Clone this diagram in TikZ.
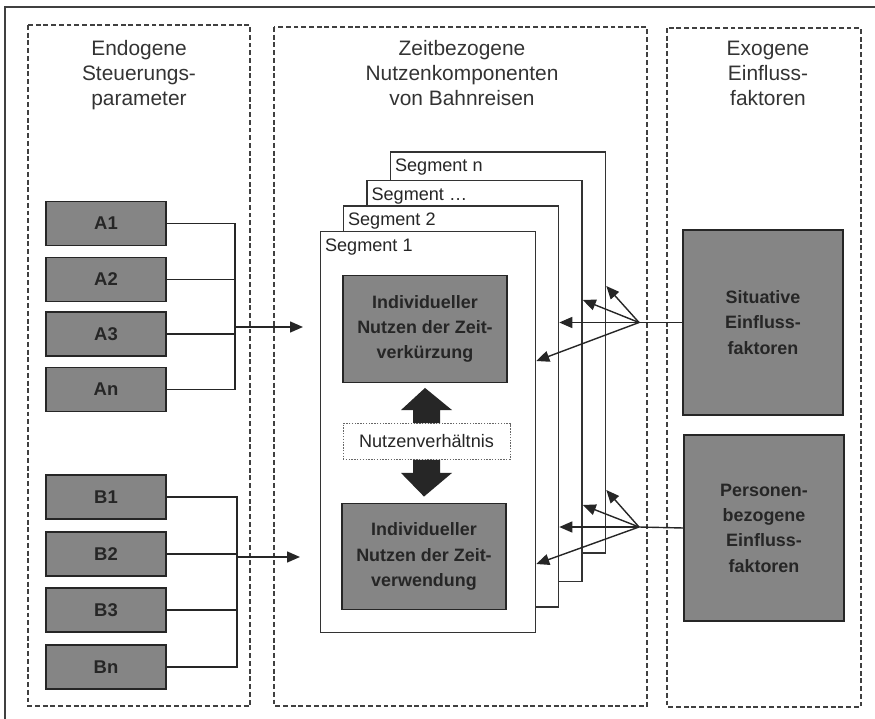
\documentclass[tikz,border=0pt]{standalone}
\usepackage{fontspec}
\setmainfont{Liberation Sans}
\usetikzlibrary{arrows.meta,calc}

\begin{document}
\begin{tikzpicture}[
    x=0.02cm, y=-0.02cm,
    panel/.style={draw=black!75, line width=0.7pt, dash pattern=on 2.8pt off 1.6pt},
    title/.style={align=center, text=black!80, font=\fontsize{11.9}{14.2}\selectfont},
    param/.style={draw=black!85, line width=0.8pt, fill=black!48, text=black!85,
        inner sep=0pt, minimum width=2.4cm, minimum height=0.88cm,
        font=\bfseries\fontsize{10.5}{12}\selectfont},
    segbox/.style={draw=black!80, line width=0.9pt, fill=white, inner sep=0pt,
        minimum width=4.3cm, minimum height=8.02cm},
    seglabel/.style={anchor=north west, inner xsep=0.1cm, inner ysep=0.15cm,
        text=black!85, font=\fontsize{10.3}{12}\selectfont},
    utilbox/.style={draw=black!85, line width=0.8pt, fill=black!48, text=black!85,
        inner sep=0pt, minimum width=3.28cm, minimum height=2.13cm, align=center,
        font=\bfseries\fontsize{10.2}{14.4}\selectfont},
    factorbox/.style={utilbox, minimum width=3.2cm},
    ratiobox/.style={draw=black!60, line width=0.5pt, dash pattern=on 0.8pt off 0.8pt,
        fill=white, inner sep=0pt, minimum width=3.34cm, minimum height=0.72cm,
        text=black!85, font=\fontsize{10.3}{12}\selectfont},
    linkline/.style={draw=black!85, line width=0.8pt},
    feedarrow/.style={linkline, -{Triangle[length=2.6mm, width=2.2mm]}},
    blockarrow/.style={fill=black!85}
]

    \useasboundingbox (0,0) rectangle (875,719);

    % frame
    \draw[black!75, line width=0.9pt]
        (5,719) --
        (5,7) --
        (875,7);

    % panels
    \draw[panel] (28,25) rectangle (250,706);
    \draw[panel] (274,27) rectangle (647,706);
    \draw[panel] (667,28) rectangle (861,707);

    \node[title] (endo) at (139,75) {Endogene\\Steuerungs-\\parameter};
    \node[title] (zeit) at (462,73) {Zeitbezogene\\Nutzenkomponenten\\von Bahnreisen};
    \node[title] (exo) at (768,73) {Exogene\\Einfluss-\\faktoren};

    % A parameters
    \node[param] (a1) at (106,223.5) {A1};
    \node[param] (a2) at (106,279.5) {A2};
    \node[param] (a3) at (106,334) {A3};
    \node[param] (an) at (106,389.5) {An};

    \coordinate (busA) at (235,327);
    \coordinate (inA) at (303,327);
    \draw[linkline] (a1.east) -| (busA);
    \draw[linkline] (a2.east) -| (busA);
    \draw[linkline] (a3.east) -| (busA);
    \draw[linkline] (an.east) -| (busA);
    \draw[feedarrow]
        (busA) --
        (inA);

    % B parameters
    \node[param] (b1) at (106,497) {B1};
    \node[param] (b2) at (106,554) {B2};
    \node[param] (b3) at (106,610) {B3};
    \node[param] (bn) at (106,667) {Bn};

    \coordinate (busB) at (237,557);
    \coordinate (inB) at (300,557);
    \draw[linkline] (b1.east) -| (busB);
    \draw[linkline] (b2.east) -| (busB);
    \draw[linkline] (b3.east) -| (busB);
    \draw[linkline] (bn.east) -| (busB);
    \draw[feedarrow]
        (busB) --
        (inB);

    % segments
    \node[segbox] (segn) at (498,352.5) {};
    \node[seglabel] (segnlab) at (segn.north west) {Segment n};
    \node[segbox] (segd) at (474.5,381) {};
    \node[seglabel] (segdlab) at (segd.north west) {Segment \dots};
    \node[segbox] (seg2) at (451,406.5) {};
    \node[seglabel] (seg2lab) at (seg2.north west) {Segment 2};
    \node[segbox] (seg1) at (428,432) {};
    \node[seglabel] (seg1lab) at (seg1.north west) {Segment 1};

    % utility components
    \node[utilbox] (shorten) at (425,329) {Individueller\\Nutzen der Zeit-\\verkürzung};
    \node[utilbox] (usage) at (424,556.5) {Individueller\\Nutzen der Zeit-\\verwendung};
    \node[ratiobox] (ratio) at (426.5,441.5) {Nutzenverhältnis};

    \fill[blockarrow]
        ($(ratio.north)+(-13.5,0)$) --
        ($(ratio.north)+(13.5,0)$) --
        ($(ratio.north)+(13.5,-13)$) --
        ($(ratio.north)+(25.5,-13)$) --
        ($(shorten.south)+(0,5)$) --
        ($(ratio.north)+(-25.5,-13)$) --
        ($(ratio.north)+(-13.5,-13)$) -- cycle;

    \fill[blockarrow]
        ($(ratio.south)+(-13.5,0)$) --
        ($(ratio.south)+(13.5,0)$) --
        ($(ratio.south)+(13.5,13)$) --
        ($(ratio.south)+(25.5,13)$) --
        ($(usage.north)+(0,-6)$) --
        ($(ratio.south)+(-25.5,13)$) --
        ($(ratio.south)+(-13.5,13)$) -- cycle;

    % exogenous factors
    \node[factorbox, minimum height=3.7cm] (situ) at (763,322.5) {Situative\\Einfluss-\\faktoren};
    \node[factorbox, minimum height=3.72cm] (pers) at (764,528) {Personen-\\bezogene\\Einfluss-\\faktoren};

    \coordinate (hubS) at (639,322.5);
    \draw[linkline] (situ.west) -- (hubS);
    \draw[feedarrow] (hubS) -- (segn.east |- 0,286);
    \draw[feedarrow] (hubS) -- (segd.east |- 0,300);
    \draw[feedarrow] (hubS) -- (seg2.east |- 0,322.5);
    \draw[feedarrow] (hubS) -- (seg1.east |- 0,361);

    \coordinate (hubP) at (639,527);
    \draw[linkline] (pers.west) -- (hubP);
    \draw[feedarrow] (hubP) -- (segn.east |- 0,490);
    \draw[feedarrow] (hubP) -- (segd.east |- 0,505);
    \draw[feedarrow] (hubP) -- (seg2.east |- 0,527);
    \draw[feedarrow] (hubP) -- (seg1.east |- 0,564);

\end{tikzpicture}
\end{document}
